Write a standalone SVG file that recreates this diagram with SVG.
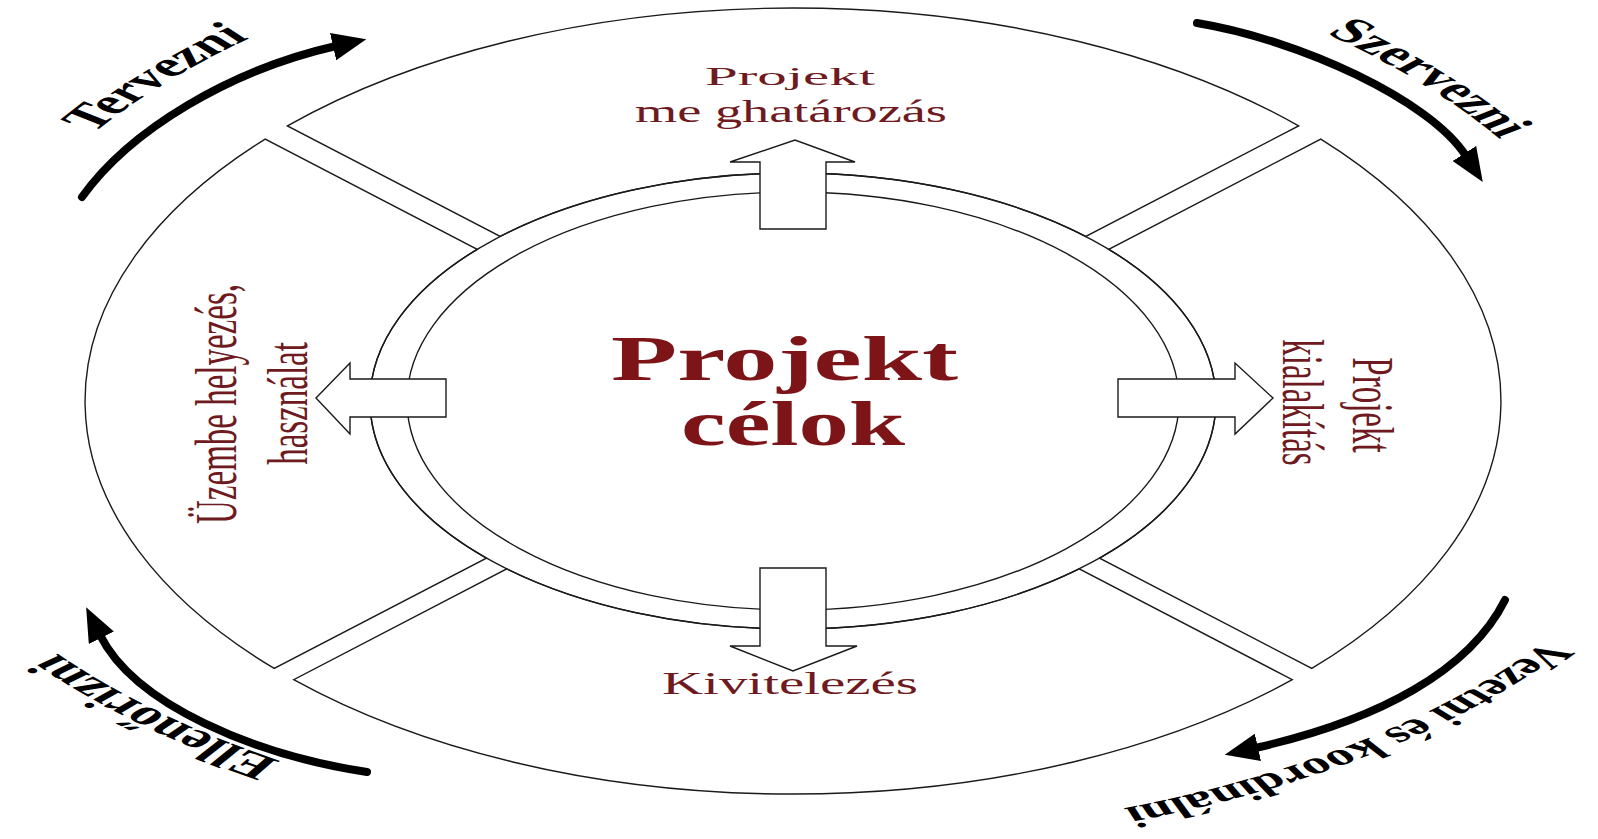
<svg xmlns="http://www.w3.org/2000/svg" width="1598" height="839" viewBox="0 0 1598 839">
<defs>
<style>
.seg{fill:#fff;stroke:#1a1a1a;stroke-width:1.4}
.band{fill:none;stroke:#1a1a1a;stroke-width:1.4}
.blk{fill:#fff;stroke:#1a1a1a;stroke-width:1.4;stroke-linejoin:miter}
.cyc{fill:none;stroke:#000;stroke-width:8;stroke-linecap:round}
.lbl{font-family:"Liberation Serif","Times New Roman",serif;fill:#6e1a20}
.big{font-family:"Liberation Serif","Times New Roman",serif;font-weight:bold;fill:#7d1418}
.cl{font-family:"Liberation Serif","Times New Roman",serif;font-weight:bold;fill:#000}
</style>
<marker id="ah" markerUnits="userSpaceOnUse" markerWidth="34" markerHeight="28" viewBox="0 0 34 28" refX="3" refY="14" orient="auto">
<path d="M0,0 L34,14 L0,28 Z" fill="#000"/>
</marker>
<path id="pTerv" d="M -31.03 381.26 A 472 472 0 0 1 378.12 -66.85"/>
<path id="pSzerv" d="M 503.00 -66.85 A 472 472 0 0 1 912.15 381.26"/>
<path id="pVez" d="M 933.56 474.38 A 500 438 0 0 1 444.05 838.99"/>
<path id="pEll" d="M 386.56 836.44 A 500 438 0 0 1 -58.34 430.03"/>
</defs>
<rect width="1598" height="839" fill="#fff"/>

<g id="seg-top">
<path class="seg" d="M 287.4 125.9 A 708 393 0 0 1 1298.6 125.9 L 1085.8 236.4 A 423 228 0 0 0 500.2 236.4 Z"/>
<text class="lbl" x="790" y="85" font-size="26" text-anchor="middle" textLength="170" lengthAdjust="spacingAndGlyphs">Projekt</text>
<text class="lbl" x="791" y="122" font-size="32" text-anchor="middle" textLength="312" lengthAdjust="spacingAndGlyphs">me ghatározás</text>
</g>
<g id="seg-right">
<path class="seg" d="M 1320.8 139.1 A 708 393 0 0 1 1311.8 668.4 L 1099.6 558.1 A 423 228 0 0 0 1108.8 249.3 Z"/>
<text class="lbl" font-size="33" text-anchor="middle" transform="translate(1353,405) scale(1.8,1) rotate(90)">Projekt</text>
<text class="lbl" font-size="33" text-anchor="middle" transform="translate(1283,402.5) scale(1.8,1) rotate(90)">kialakítás</text>
</g>
<g id="seg-bottom">
<path class="seg" d="M 1292.3 679.7 A 708 393 0 0 1 293.7 679.7 L 506.8 568.9 A 423 228 0 0 0 1079.2 568.9 Z"/>
<text class="lbl" x="790" y="694" font-size="32" text-anchor="middle" textLength="256" lengthAdjust="spacingAndGlyphs">Kivitelezés</text>
</g>
<g id="seg-left">
<path class="seg" d="M 274.2 668.4 A 708 393 0 0 1 265.2 139.1 L 477.2 249.3 A 423 228 0 0 0 486.4 558.1 Z"/>
<text class="lbl" font-size="33" text-anchor="middle" transform="translate(236,404) scale(1.8,1) rotate(-90)">Üzembe helyezés,</text>
<text class="lbl" font-size="33" text-anchor="middle" transform="translate(307,403.5) scale(1.75,1) rotate(-90)">használat</text>
</g>

<g id="band">
<ellipse class="band" cx="793" cy="401" rx="423" ry="228"/>
<ellipse class="band" cx="793" cy="401" rx="386" ry="209"/>
</g>

<g id="center">
<text class="big" x="784.5" y="380" font-size="64" text-anchor="middle" textLength="347" lengthAdjust="spacingAndGlyphs">Projekt</text>
<text class="big" x="793" y="445" font-size="64" text-anchor="middle" textLength="224" lengthAdjust="spacingAndGlyphs">célok</text>
</g>

<g id="connectors">
<polygon class="blk" points="760,229 760,162 730,162 795,140 855,162 826,162 826,229"/>
<polygon class="blk" points="760,568 826,568 826,646 857,646 793,671 730,646 760,646"/>
<polygon class="blk" points="446,379 350,379 350,363 316,398 350,434 350,417 446,417"/>
<polygon class="blk" points="1118,379 1235,379 1235,363 1273,398 1235,434 1235,417 1118,417"/>
<path class="cyc" d="M 82 197 C 130 130, 230 70, 336 46" marker-end="url(#ah)"/>
<path class="cyc" d="M 1197 23 C 1300 40, 1430 100, 1466 156" marker-end="url(#ah)"/>
<path class="cyc" d="M 1505 600 C 1470 670, 1380 720, 1255 748" marker-end="url(#ah)"/>
<path class="cyc" d="M 367 772 C 255 755, 135 705, 100 635" marker-end="url(#ah)"/>
</g>

<g id="cycle-labels" transform="scale(1.8,1)">
<text class="cl" font-size="35"><textPath href="#pTerv" startOffset="50%" text-anchor="middle">Tervezni</textPath></text>
<text class="cl" font-size="35"><textPath href="#pSzerv" startOffset="50%" text-anchor="middle">Szervezni</textPath></text>
<text class="cl" font-size="31"><textPath href="#pVez" startOffset="50%" text-anchor="middle">Vezetni és koordinálni</textPath></text>
<text class="cl" font-size="35"><textPath href="#pEll" startOffset="50%" text-anchor="middle">Ellenőrizni</textPath></text>
</g>
</svg>
